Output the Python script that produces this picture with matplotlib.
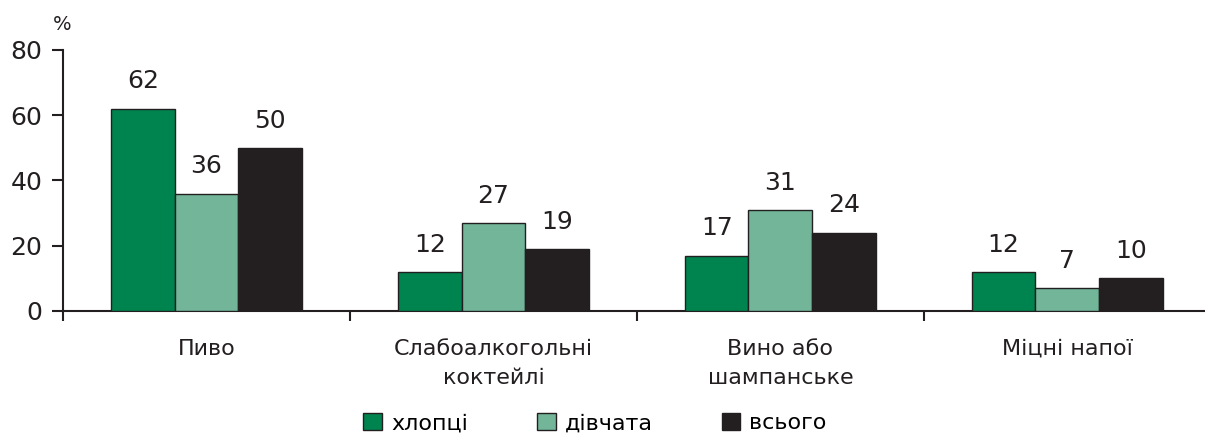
import matplotlib
matplotlib.use("Agg")
import matplotlib.pyplot as plt
import numpy as np
from matplotlib.patches import Patch

plt.rcParams['font.family'] = ['DejaVu Sans']

categories = ["Пиво", "Слабоалкогольні\nкоктейлі", "Вино або\nшампанське", "Міцні напої"]
series_names = ["хлопці", "дівчата", "всього"]
boys = [62, 12, 17, 12]
girls = [36, 27, 31, 7]
total = [50, 19, 24, 10]
colors = ["#00844F", "#72B599", "#231F20"]
yticks = [0, 20, 40, 60, 80]
txt = "#231F20"

fig = plt.figure(figsize=(12.05, 4.33), dpi=100)
W, H = 1205, 433
ax = fig.add_axes([63/W, 122/H, (1205-63)/W, 261/H])

x = np.arange(len(categories)) + 0.5
bw = 0.222
for i, (vals, c, name) in enumerate(zip([boys, girls, total], colors, series_names)):
    pos = x + (i - 1) * bw
    ax.bar(pos, vals, width=bw, color=c, edgecolor=txt, linewidth=1.0, label=name, zorder=3)
    for p, v in zip(pos, vals):
        ax.annotate(str(v), (p, v), xytext=(0, 11), textcoords="offset points",
                    ha="center", va="bottom", fontsize=18, color=txt)

ax.set_ylim(0, 80)
ax.set_xlim(0, 3.98)
ax.set_yticks(yticks)
ax.set_yticklabels([str(t) for t in yticks], fontsize=18, color=txt)
ax.set_xticks([0, 1, 2, 3])
ax.set_xticklabels([])
ax.set_xticks(x, minor=True)
ax.set_xticklabels(categories, minor=True, fontsize=16, color=txt, linespacing=1.55)
ax.tick_params(axis='x', which='minor', length=0, pad=20)
ax.tick_params(axis='x', which='major', length=7, width=1.5, color=txt, direction='out')
ax.tick_params(axis='y', length=8, width=1.5, color=txt, direction='out', pad=7)

for s in ["top", "right"]:
    ax.spines[s].set_visible(False)
for s in ["left", "bottom"]:
    ax.spines[s].set_linewidth(1.5)
    ax.spines[s].set_color(txt)

fig.text(62/W, 1 - 24/H, "%", fontsize=14, ha="center", va="center", color=txt)

handles = [Patch(facecolor=c, edgecolor=txt, linewidth=1.0) for c in colors]
fig.legend(handles, series_names, loc="center", bbox_to_anchor=(595/W, 1 - 423/H),
           ncol=3, frameon=False, fontsize=16, handlelength=0.85, handleheight=0.85,
           handletextpad=0.4, columnspacing=3.1)

fig.savefig("out.png", dpi=100)
